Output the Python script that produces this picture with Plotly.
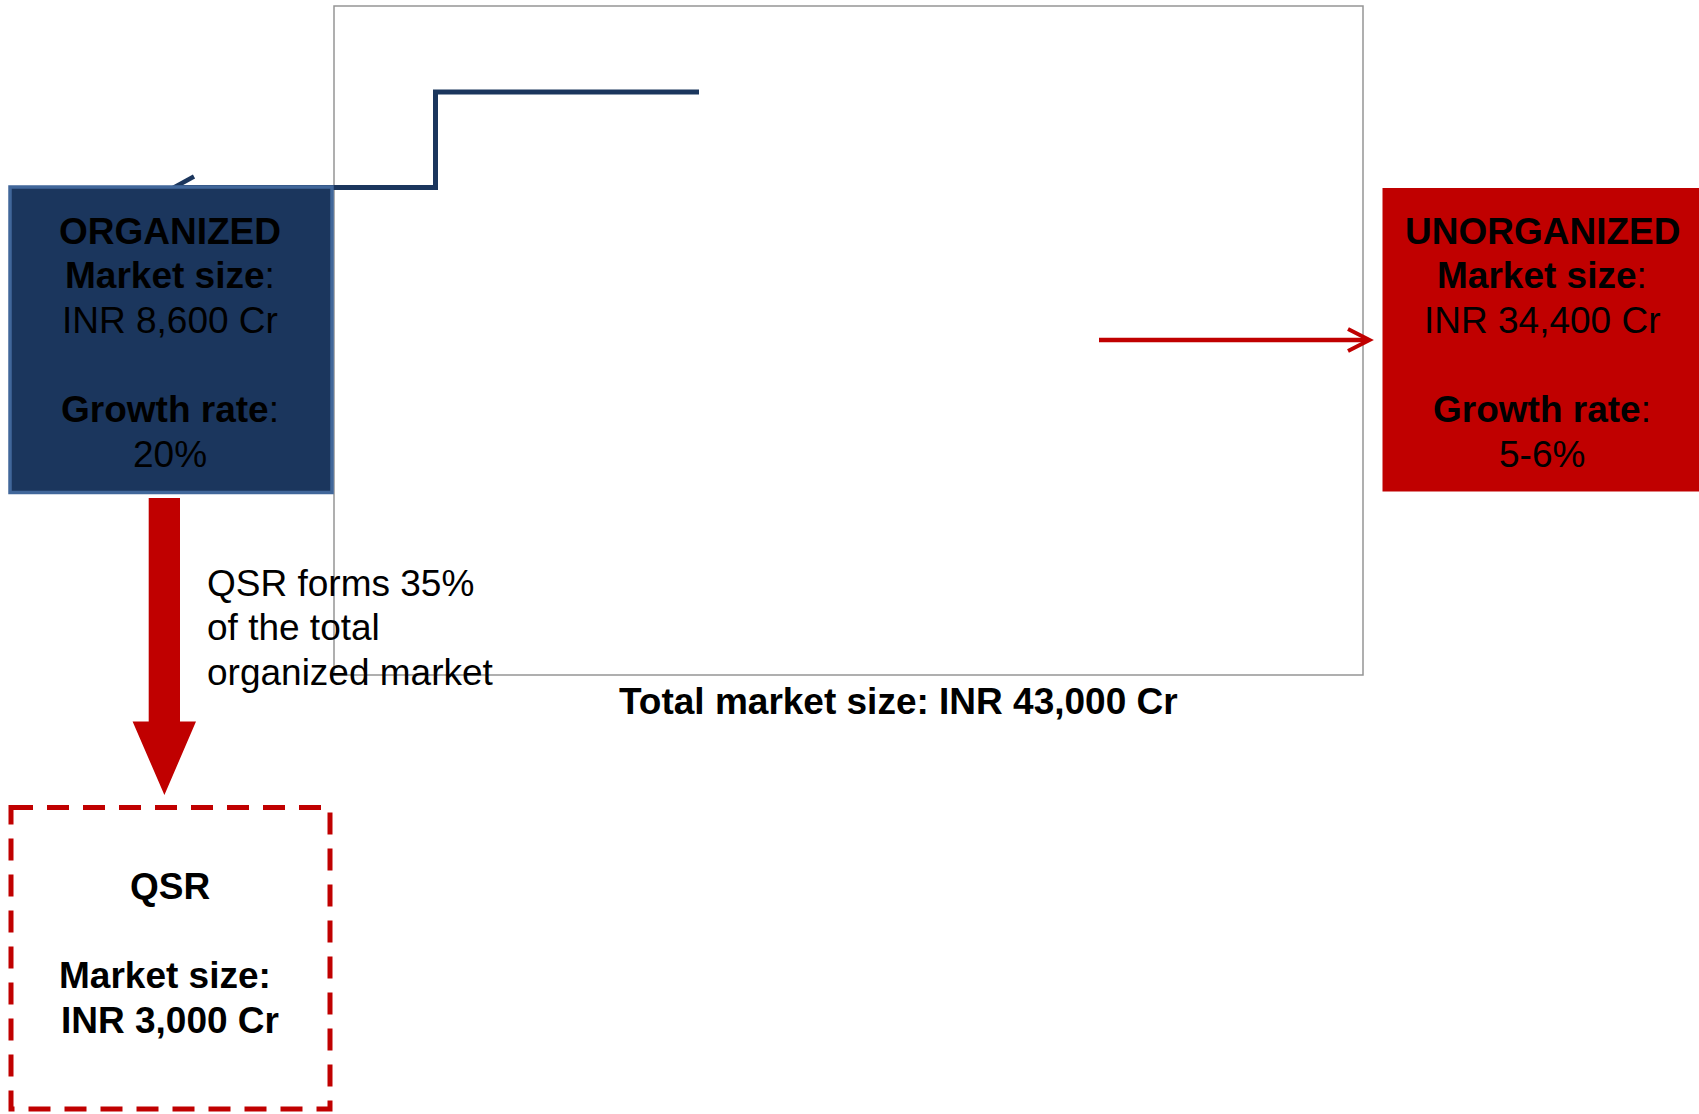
import plotly.graph_objects as go

# ---- data ----
segments = ["ORGANIZED", "UNORGANIZED"]
market_size_cr = [8600, 34400]
growth_rate = ["20%", "5-6%"]
total_market_cr = 43000
qsr_share_pct = 35
qsr_market_cr = 3000

NAVY = "#1b365d"
NAVY_EDGE = "#41679a"
RED = "#c00000"
GRAY = "#959595"
FONT = "Liberation Sans, Arial, sans-serif"
FS = 37
LS = 44.6

W, H = 1699, 1114
fig = go.Figure()

shapes = []
annotations = []

# plot frame
shapes.append(dict(type="rect", x0=334, x1=1363, y0=6, y1=675,
                   line=dict(color=GRAY, width=1.5), fillcolor="rgba(0,0,0,0)"))

# navy step connector (drawn under the box)
shapes.append(dict(type="path", path="M 175,187.5 L 435.5,187.5 L 435.5,92 L 699,92",
                   line=dict(color=NAVY, width=5)))
shapes.append(dict(type="line", x0=173, y0=188, x1=194, y1=176.5, line=dict(color=NAVY, width=4.5)))

# organized box
shapes.append(dict(type="rect", x0=10, x1=332, y0=187, y1=492.5,
                   fillcolor=NAVY, line=dict(color=NAVY_EDGE, width=3.5)))

# unorganized box
shapes.append(dict(type="rect", x0=1382.5, x1=1702, y0=188, y1=491.5,
                   fillcolor=RED, line=dict(width=0)))

# red connector arrow
shapes.append(dict(type="line", x0=1099, y0=340, x1=1367, y1=340, line=dict(color=RED, width=4.5)))
shapes.append(dict(type="path", path="M 1348,329 L 1369.5,340 L 1348,351",
                   line=dict(color=RED, width=4)))

# thick down arrow
shapes.append(dict(type="path",
                   path="M 148.7,498 L 180,498 L 180,721.5 L 196,721.5 L 164.4,795 L 132.6,721.5 L 148.7,721.5 Z",
                   fillcolor=RED, line=dict(width=0)))

# QSR dashed box
shapes.append(dict(type="rect", x0=11, x1=330, y0=807.5, y1=1109,
                   fillcolor="rgba(0,0,0,0)", line=dict(color=RED, width=5, dash="22px,14px")))


def add_lines(lines, x, y0, xanchor="center"):
    for i, t in enumerate(lines):
        if t == "":
            continue
        annotations.append(dict(x=x, y=y0 + i * LS, xref="x", yref="y", text=t,
                                showarrow=False, xanchor=xanchor, yanchor="middle",
                                font=dict(family=FONT, size=FS, color="black")))


def fmt(v):
    return f"{v:,}"


for seg, size, gr, cx in zip(segments, market_size_cr, growth_rate, [170, 1542]):
    add_lines([f"<b>{seg}</b>", "<b>Market size</b>:", f"INR {fmt(size)} Cr", "",
               "<b>Growth rate</b>:", gr], cx, 231)

add_lines([f"<b>Total market size: INR {fmt(total_market_cr)} Cr</b>"], 898, 701)

add_lines([f"QSR forms {qsr_share_pct}%", "of the total", "organized market"], 205, 583, xanchor="left")

add_lines(["<b>QSR</b>", ""], 170, 886)
add_lines(["<b>Market size:</b>"], 165, 975)
add_lines([f"<b>INR {fmt(qsr_market_cr)} Cr</b>"], 170, 1020)

fig.update_layout(
    width=W, height=H,
    margin=dict(l=0, r=0, t=0, b=0),
    paper_bgcolor="white", plot_bgcolor="white",
    xaxis=dict(range=[0, W], visible=False, fixedrange=True),
    yaxis=dict(range=[H, 0], visible=False, fixedrange=True),
    shapes=shapes, annotations=annotations,
    showlegend=False,
)

fig.write_html("out.html",
               config={"displayModeBar": False},
               post_script="document.body.style.margin='0px';document.body.style.overflow='hidden';")
